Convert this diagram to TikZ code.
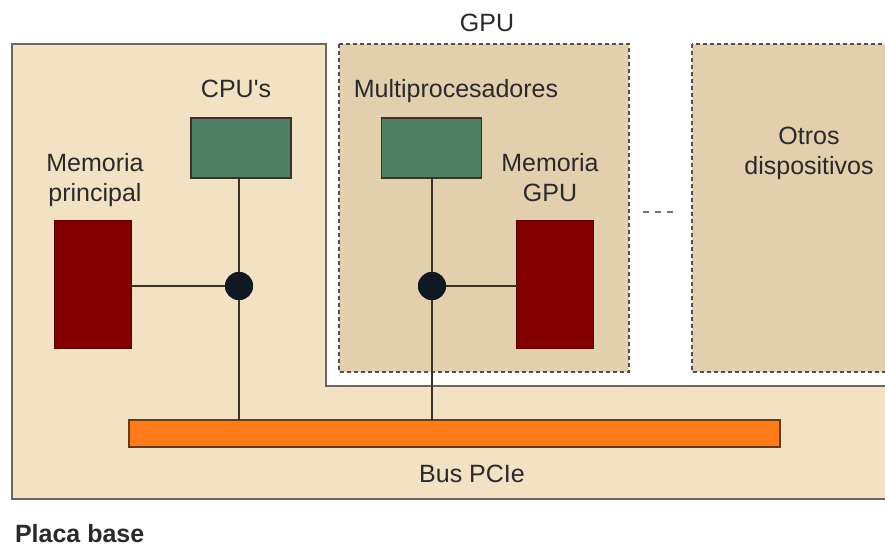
\documentclass[tikz,border=0pt]{standalone}
\usepackage{fontspec}
\setmainfont{Liberation Sans}
\begin{document}
\begin{tikzpicture}[x=1pt,y=-1pt,
  every node/.style={inner sep=0pt, outer sep=0pt, font=\fontsize{25}{30}\selectfont, text=txt},
  board/.style={fill=boardfill, draw=boardline, line width=1.6pt},
  devbox/.style={fill=devfill, draw=dashcol, line width=1.4pt, dash pattern=on 4pt off 3pt},
  procbox/.style={draw=linecol, fill=procfill, line width=1.5pt, minimum width=100pt, minimum height=60pt},
  membox/.style={fill=memfill, draw=memfill!70!black, line width=0.8pt, minimum width=77pt, minimum height=128pt},
  junction/.style={circle, fill=dotfill, minimum size=28pt},
  busbar/.style={fill=busfill, draw=busline, line width=1.3pt, minimum width=651pt, minimum height=27pt},
  wire/.style={draw=linecol, line width=1.4pt},
  label/.style={align=center}
]
\definecolor{boardfill}{HTML}{F3E1C4}
\definecolor{boardline}{HTML}{6E665B}
\definecolor{devfill}{HTML}{E2CFAE}
\definecolor{dashcol}{HTML}{4F4F4F}
\definecolor{procfill}{HTML}{4E7E64}
\definecolor{memfill}{HTML}{820000}
\definecolor{dotfill}{HTML}{121822}
\definecolor{busfill}{HTML}{FF7B1A}
\definecolor{busline}{HTML}{6A3A12}
\definecolor{linecol}{HTML}{3B3226}
\definecolor{txt}{HTML}{2A2A2A}
\clip (0,0) rectangle (885,548);
\fill[white] (0,0) rectangle (885,548);

% Placa base outline
\draw[board] (12,44) -- (326,44) -- (326,386) -- (895,386) -- (895,499) -- (12,499) -- cycle;
% GPU and other devices boxes
\draw[devbox] (339,44) rectangle (629,372);
\draw[devbox] (692,44) rectangle (900,372);
% dashes between
\draw[dashcol!80, line width=1.4pt, dash pattern=on 6pt off 6pt] (643,212) -- (677,212);

% components
\node[procbox] (cpu) at (241,148) {};
\node[procbox] (mp) at (431.5,148) {};
\node[membox] (mem) at (93,284) {};
\node[membox] (gmem) at (555,284) {};
\node[busbar] (bus) at (454.5,433.5) {};
\node[junction] (d1) at (239,286) {};
\node[junction] (d2) at (432,286) {};

% wires
\draw[wire] (d1) -- (d1 |- cpu.south);
\draw[wire] (d1) -- (d1 |- bus.north);
\draw[wire] (d1) -- (mem.east |- d1);
\draw[wire] (d2) -- (d2 |- mp.south);
\draw[wire] (d2) -- (d2 |- bus.north);
\draw[wire] (d2) -- (gmem.west |- d2);
\node[junction] at (d1) {};
\node[junction] at (d2) {};

% labels
\node[anchor=base] (tgpu) at (487,32) {GPU};
\node[anchor=base] (tcpu) at (236,98) {CPU\textquotesingle s};
\node[anchor=base] (tmp) at (456,98) {Multiprocesadores};
\node[label] (tmem) at (95,180.5) {Memoria\\principal};
\node[label] (tgmem) at (550,178) {Memoria\\GPU};
\node[label] (totros) at (809,153) {Otros\\dispositivos};
\node[anchor=base] (tbus) at (472,482) {Bus PCIe};
\node[anchor=base west, font=\fontsize{25}{30}\selectfont\bfseries] (tplaca) at (15,542) {Placa base};
\end{tikzpicture}
\end{document}
